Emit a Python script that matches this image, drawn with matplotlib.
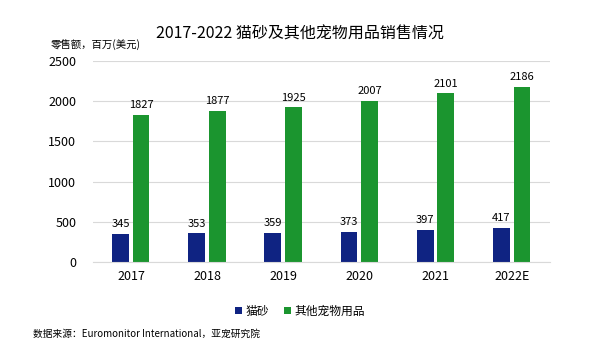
import matplotlib
matplotlib.use("Agg")
import matplotlib.pyplot as plt
import numpy as np

plt.rcParams['font.family'] = ['Noto Sans CJK SC', 'DejaVu Sans']

years = ['2017', '2018', '2019', '2020', '2021', '2022E']
litter = [345, 353, 359, 373, 397, 417]
others = [1827, 1877, 1925, 2007, 2101, 2186]

blue = '#0f2382'
green = '#1b952f'

fig = plt.figure(figsize=(6, 3.53), dpi=100)
ax = fig.add_axes([0.155, 0.259, 0.762, 0.567])

x = np.arange(len(years))
w = 0.22
b1 = ax.bar(x - 0.14, litter, w, color=blue, label='猫砂')
b2 = ax.bar(x + 0.13, others, w, color=green, label='其他宠物用品')
for r, v in zip(b1, litter):
    ax.text(r.get_x() + r.get_width() / 2, v + 60, str(v), ha='center', va='bottom', fontsize=8)
for r, v in zip(b2, others):
    ax.text(r.get_x() + r.get_width() / 2, v + 60, str(v), ha='center', va='bottom', fontsize=8)

ax.set_xlim(-0.5, len(years) - 0.5)
ax.set_ylim(0, 2500)
ax.set_yticks(range(0, 2501, 500))
ax.set_xticks(x)
ax.set_xticklabels(years)
ax.yaxis.grid(True, color='#d9d9d9', linewidth=0.8)
ax.set_axisbelow(True)
for s in ['top', 'right', 'left']:
    ax.spines[s].set_visible(False)
ax.spines['bottom'].set_color('#d9d9d9')
ax.tick_params(axis='x', length=0, labelsize=9, pad=6)
ax.tick_params(axis='y', length=0, labelsize=9, pad=12)

fig.text(0.5, 0.903, '2017-2022 猫砂及其他宠物用品销售情况', ha='center', va='center',
         fontsize=11.5, fontweight='light')
fig.text(0.085, 0.872, '零售额，百万(美元)', ha='left', va='center', fontsize=7.5)
fig.legend(handles=[b1, b2], loc='center', bbox_to_anchor=(0.5, 0.118), ncol=2,
           frameon=False, fontsize=8.5, handlelength=0.6, handleheight=0.6,
           columnspacing=1.2, handletextpad=0.3)
fig.text(0.055, 0.055, '数据来源：Euromonitor International，亚宠研究院', ha='left', va='center', fontsize=7)

fig.savefig('out.png', dpi=100)
